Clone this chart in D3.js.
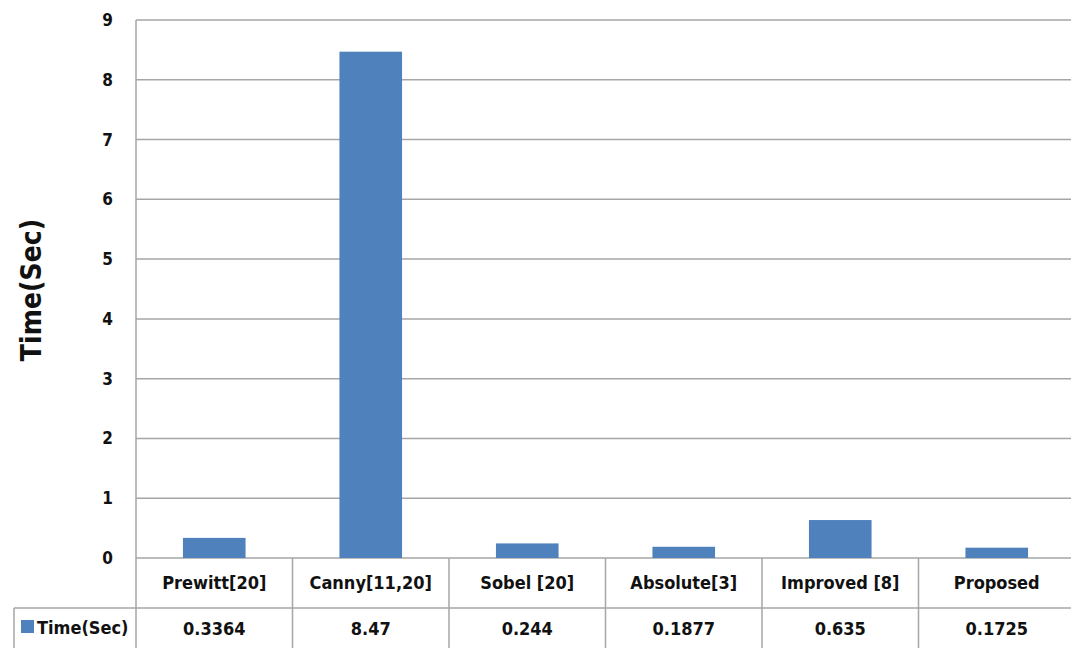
<!DOCTYPE html>
<html>
<head>
<meta charset="utf-8">
<script src="https://cdn.jsdelivr.net/npm/d3@7"></script>
<style>
  body { margin: 0; background: #fff; }
  text { font-family: "DejaVu Sans Condensed", "DejaVu Sans", sans-serif; font-weight: bold; }
</style>
</head>
<body>
<div id="chart-area"></div>
<script>
// Data
var categories = ["Prewitt[20]", "Canny[11,20]", "Sobel [20]", "Absolute[3]", "Improved [8]", "Proposed"];
var times = [0.3364, 8.47, 0.244, 0.1877, 0.635, 0.1725];
var valueLabels = ["0.3364", "8.47", "0.244", "0.1877", "0.635", "0.1725"];
var seriesName = "Time(Sec)";
var yTicks = [0, 1, 2, 3, 4, 5, 6, 7, 8, 9];

var width = 1071;
var height = 648;
var plot = { left: 136, right: 1075, top: 20, bottom: 558 };
var tableRow1 = 608;
var tableBottom = 660;
var barColor = "#4f81bd";
var lineColor = "#a6a6a6";

var svg = d3.select("#chart-area")
    .append("svg")
    .attr("width", width)
    .attr("height", height);

var x = d3.scaleBand()
    .domain(categories)
    .range([plot.left, plot.right])
    .paddingInner(0)
    .paddingOuter(0);

var y = d3.scaleLinear()
    .domain([0, 9])
    .range([plot.bottom, plot.top]);

// Gridlines
svg.selectAll(".grid")
    .data(yTicks)
    .enter()
    .append("line")
    .attr("x1", plot.left)
    .attr("x2", plot.right)
    .attr("y1", d => y(d))
    .attr("y2", d => y(d))
    .attr("stroke", lineColor)
    .attr("stroke-width", 1.5);

// Left axis line
svg.append("line")
    .attr("x1", plot.left).attr("x2", plot.left)
    .attr("y1", plot.top).attr("y2", tableBottom)
    .attr("stroke", lineColor)
    .attr("stroke-width", 1.5);

// Y tick labels
svg.selectAll(".ylab")
    .data(yTicks)
    .enter()
    .append("text")
    .attr("x", 113)
    .attr("y", d => y(d))
    .attr("dy", "0.35em")
    .attr("text-anchor", "end")
    .attr("font-size", "17px")
    .attr("fill", "#111")
    .text(d => d);

// Bars
var barW = x.bandwidth() / 2.5;
svg.selectAll(".bar")
    .data(times)
    .enter()
    .append("rect")
    .attr("x", (d, i) => x(categories[i]) + (x.bandwidth() - barW) / 2)
    .attr("y", d => y(d))
    .attr("width", barW)
    .attr("height", d => y(0) - y(d))
    .attr("fill", barColor);

// Data table lines
svg.append("line")
    .attr("x1", 14).attr("x2", plot.right)
    .attr("y1", tableRow1).attr("y2", tableRow1)
    .attr("stroke", lineColor).attr("stroke-width", 1.5);
svg.append("line")
    .attr("x1", 14).attr("x2", 14)
    .attr("y1", tableRow1).attr("y2", tableBottom)
    .attr("stroke", lineColor).attr("stroke-width", 1.5);
svg.selectAll(".vline")
    .data(categories)
    .enter()
    .append("line")
    .attr("x1", d => x(d) + x.bandwidth())
    .attr("x2", d => x(d) + x.bandwidth())
    .attr("y1", plot.bottom)
    .attr("y2", tableBottom)
    .attr("stroke", lineColor)
    .attr("stroke-width", 1.5);

// Category labels
svg.selectAll(".cat")
    .data(categories)
    .enter()
    .append("text")
    .attr("x", d => x(d) + x.bandwidth() / 2)
    .attr("y", (plot.bottom + tableRow1) / 2)
    .attr("dy", "0.35em")
    .attr("text-anchor", "middle")
    .attr("font-size", "18px")
    .attr("fill", "#111")
    .text(d => d);

// Value labels
svg.selectAll(".val")
    .data(valueLabels)
    .enter()
    .append("text")
    .attr("x", (d, i) => x(categories[i]) + x.bandwidth() / 2)
    .attr("y", 629)
    .attr("dy", "0.35em")
    .attr("text-anchor", "middle")
    .attr("font-size", "18px")
    .attr("fill", "#111")
    .text(d => d);

// Legend key in table
svg.append("rect")
    .attr("x", 21).attr("y", 620)
    .attr("width", 13).attr("height", 13)
    .attr("fill", barColor);
svg.append("text")
    .attr("x", 37)
    .attr("y", 628)
    .attr("dy", "0.35em")
    .attr("font-size", "18px")
    .attr("fill", "#111")
    .text(seriesName);

// Y axis title
svg.append("text")
    .attr("transform", "translate(41, 290) rotate(-90)")
    .attr("text-anchor", "middle")
    .attr("font-family", "Liberation Sans, Arial, sans-serif")
    .attr("font-size", "28px")
    .attr("fill", "#111")
    .text(seriesName);
</script>
</body>
</html>
